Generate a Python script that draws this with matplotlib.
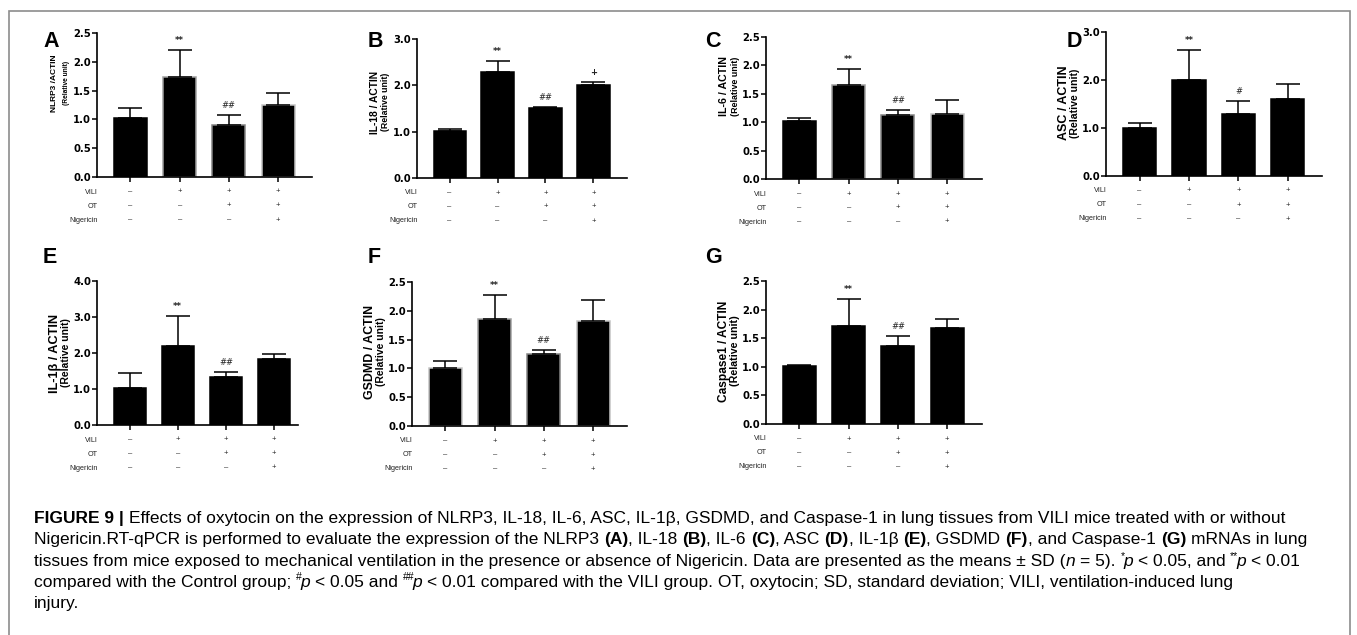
import matplotlib
matplotlib.use('Agg')
import matplotlib.pyplot as plt
from matplotlib.patches import Rectangle

# groups / treatment table
groups = ['Control', 'VILI', 'VILI+OT', 'VILI+OT+Nigericin']
row_names = ['VILI', 'OT', 'Nigericin']
row_signs = [['–', '+', '+', '+'],
             ['–', '–', '+', '+'],
             ['–', '–', '–', '+']]

# means and SD
nlrp3_mean = [1.02, 1.73, 0.90, 1.25]
nlrp3_sd = [0.17, 0.47, 0.17, 0.20]
il18_mean = [1.01, 2.28, 1.52, 2.00]
il18_sd = [0.04, 0.24, 0.02, 0.08]
il6_mean = [1.02, 1.66, 1.12, 1.15]
il6_sd = [0.06, 0.27, 0.09, 0.24]
asc_mean = [1.00, 2.00, 1.30, 1.60]
asc_sd = [0.10, 0.62, 0.27, 0.31]
il1b_mean = [1.02, 2.19, 1.34, 1.82]
il1b_sd = [0.42, 0.85, 0.12, 0.14]
gsdmd_mean = [1.01, 1.85, 1.25, 1.83]
gsdmd_sd = [0.12, 0.43, 0.07, 0.36]
casp1_mean = [1.015, 1.72, 1.36, 1.67]
casp1_sd = [0.015, 0.47, 0.18, 0.16]

nlrp3_marks = ['', '**', '##', '']
il18_marks = ['', '**', '##', '+']
il6_marks = ['', '**', '##', '']
asc_marks = ['', '**', '#', '']
il1b_marks = ['', '**', '##', '']
gsdmd_marks = ['', '**', '##', '']
casp1_marks = ['', '**', '##', '']

W, H = 1357, 635
fig = plt.figure(figsize=(W / 100, H / 100), dpi=100)

lab_font = 'Liberation Sans'
g1, g2, g3 = '#a0a0a0', '#858585', '#c4c4c4'

# letter, label, data, label sizes, (left, right, top, bottom px), ymax, step, xright, edges, label y
panels = [
    ('A', 'NLRP3 /ACTIN', nlrp3_mean, nlrp3_sd, nlrp3_marks, 6.0, 4.8, (97, 312, 33, 177), 2.5, 0.5, 3.69,
     ['black', g1, g2, g3], 83),
    ('B', 'IL-18 / ACTIN', il18_mean, il18_sd, il18_marks, 7.4, 6.3, (417, 627, 39, 178), 3.0, 1.0, 3.70,
     ['black'] * 4, 102),
    ('C', 'IL-6 / ACTIN', il6_mean, il6_sd, il6_marks, 7.7, 6.4, (766, 982, 37, 179), 2.5, 0.5, 3.71,
     ['black', g1, g2, g3], 86),
    ('D', 'ASC / ACTIN', asc_mean, asc_sd, asc_marks, 9.0, 7.6, (1106, 1322, 32, 176), 3.0, 1.0, 3.69,
     ['black'] * 4, 103),
    ('E', 'IL-1β / ACTIN', il1b_mean, il1b_sd, il1b_marks, 9.2, 7.5, (97, 298, 281, 425), 4.0, 1.0, 3.50,
     ['black'] * 4, 353),
    ('F', 'GSDMD / ACTIN', gsdmd_mean, gsdmd_sd, gsdmd_marks, 8.9, 7.5, (412, 627, 282, 426), 2.5, 0.5, 3.69,
     [g3, g1, g2, g3], 352),
    ('G', 'Caspase1 / ACTIN', casp1_mean, casp1_sd, casp1_marks, 8.6, 7.7, (766, 982, 281, 424), 2.5, 0.5, 3.71,
     ['black'] * 4, 351),
]
letter_pos = {'A': (43, 47), 'B': (368, 47), 'C': (705, 47), 'D': (1067, 47),
              'E': (43, 263), 'F': (368, 263), 'G': (705, 263)}


def fx(x):
    return x / W


def fy(y):
    return 1 - y / H


for (letter, label, mean, sd, marks, fs1, fs2, box, ymax, step, xr, edges, laby) in panels:
    l, r, t, b = box
    ax = fig.add_axes([fx(l), fy(b), (r - l) / W, (b - t) / H])
    x = list(range(len(mean)))
    ax.bar(x, mean, width=0.67, color='black', edgecolor=edges, linewidth=1.1, zorder=2)
    ax.errorbar(x, mean, yerr=[[0] * 4, sd], fmt='none', ecolor='black', elinewidth=1.1,
                capsize=8.5, capthick=1.1, zorder=3)
    for xi, m, s, mk in zip(x, mean, sd, marks):
        if mk:
            ax.text(xi, m + s + ymax * 0.035, mk, ha='center', va='bottom', fontsize=6,
                    fontweight='bold' if mk in ('**', '+') else 'normal', color='#222222')
    ax.set_xlim(-0.68, xr)
    ax.set_ylim(0, ymax)
    ticks = [i * step for i in range(int(round(ymax / step)) + 1)]
    ax.set_yticks(ticks)
    ax.set_yticklabels(['%.1f' % v for v in ticks], fontsize=7.2, fontweight='bold',
                       family='DejaVu Sans')
    ax.set_xticks(x)
    ax.set_xticklabels([])
    ax.tick_params(axis='both', direction='out', length=3.5, width=1.1, pad=0.8)
    for sp in ['top', 'right']:
        ax.spines[sp].set_visible(False)
    for sp in ['left', 'bottom']:
        ax.spines[sp].set_linewidth(1.2)
    ax.patch.set_alpha(0)

    # y label (two lines)
    fig.text(fx(l - 42), fy(laby), label, rotation=90, ha='center', va='center',
             fontsize=fs1, fontweight='bold', family=lab_font)
    fig.text(fx(l - 31), fy(laby), '(Relative unit)', rotation=90, ha='center', va='center',
             fontsize=fs2, fontweight='bold', family=lab_font)

    # treatment table
    centers = ax.transData.transform([(xi, 0) for xi in x])
    for k, (name, signs) in enumerate(zip(row_names, row_signs)):
        yy = b + 15 + 14 * k
        fig.text(fx(l + 1), fy(yy), name, ha='right', va='center', fontsize=5.2,
                 family='Liberation Sans', color='#222222')
        for (cx, _), sg in zip(centers, signs):
            fig.text(cx / W, fy(yy), sg, ha='center', va='center', fontsize=5.5,
                     family='Liberation Sans', color='#222222')

    lx, ly = letter_pos[letter]
    fig.text(fx(lx), fy(ly), letter, ha='left', va='baseline', fontsize=15.5,
             fontweight='bold', family='Liberation Sans')

# frame around the figure
fig.patches.append(Rectangle((fx(9), -0.05), (1350 - 9) / W, fy(11) + 0.05, transform=fig.transFigure,
                             fill=False, edgecolor='#8c8c8c', linewidth=1.2))

# caption
cap_fs = 12.5
cap_font = 'Liberation Sans'
renderer = fig.canvas.get_renderer()


def text_w(s, **kw):
    t = fig.text(0, 0, s, **kw)
    w = t.get_window_extent(renderer).width
    t.remove()
    return w


space_w = text_w('x x', fontsize=cap_fs, family=cap_font) - text_w('xx', fontsize=cap_fs, family=cap_font)


def caption_line(x, y, runs):
    for txt, st in runs:
        kw = dict(fontsize=cap_fs, family=cap_font)
        yy = y
        if st == 'b':
            kw['fontweight'] = 'bold'
        if st == 'i':
            kw['style'] = 'italic'
        if st == 's':
            kw['fontsize'] = cap_fs * 0.6
            yy = y - 6.5
        lead = len(txt) - len(txt.lstrip(' '))
        trail = len(txt) - len(txt.rstrip(' '))
        core = txt.strip(' ')
        x += lead * space_w
        if core:
            t = fig.text(fx(x), fy(yy), core, ha='left', va='baseline', **kw)
            x += t.get_window_extent(renderer).width
            if st == 's':
                x -= 1.5
        x += trail * space_w


cap_lines = [
    [('FIGURE 9 |', 'b'), (' Effects of oxytocin on the expression of NLRP3, IL-18, IL-6, ASC, IL-1β, GSDMD, '
                           'and Caspase-1 in lung tissues from VILI mice treated with or without', 'n')],
    [('Nigericin.RT-qPCR is performed to evaluate the expression of the NLRP3 ', 'n'), ('(A)', 'b'),
     (', IL-18 ', 'n'), ('(B)', 'b'), (', IL-6 ', 'n'), ('(C)', 'b'), (', ASC ', 'n'), ('(D)', 'b'),
     (', IL-1β ', 'n'), ('(E)', 'b'), (', GSDMD ', 'n'), ('(F)', 'b'), (', and Caspase-1 ', 'n'),
     ('(G)', 'b'), (' mRNAs in lung', 'n')],
    [('tissues from mice exposed to mechanical ventilation in the presence or absence of Nigericin. '
      'Data are presented as the means ± SD (', 'n'), ('n', 'i'), (' = 5). ', 'n'), ('*', 's'), ('p', 'i'),
     (' < 0.05, and ', 'n'), ('**', 's'), ('p', 'i'), (' < 0.01', 'n')],
    [('compared with the Control group; ', 'n'), ('#', 's'), ('p', 'i'), (' < 0.05 and ', 'n'), ('##', 's'),
     ('p', 'i'), (' < 0.01 compared with the VILI group. OT, oxytocin; SD, standard deviation; VILI, '
                  'ventilation-induced lung', 'n')],
    [('injury.', 'n')],
]
for i, runs in enumerate(cap_lines):
    caption_line(34, 523 + 21.3 * i, runs)

fig.savefig('out.png', dpi=100)
